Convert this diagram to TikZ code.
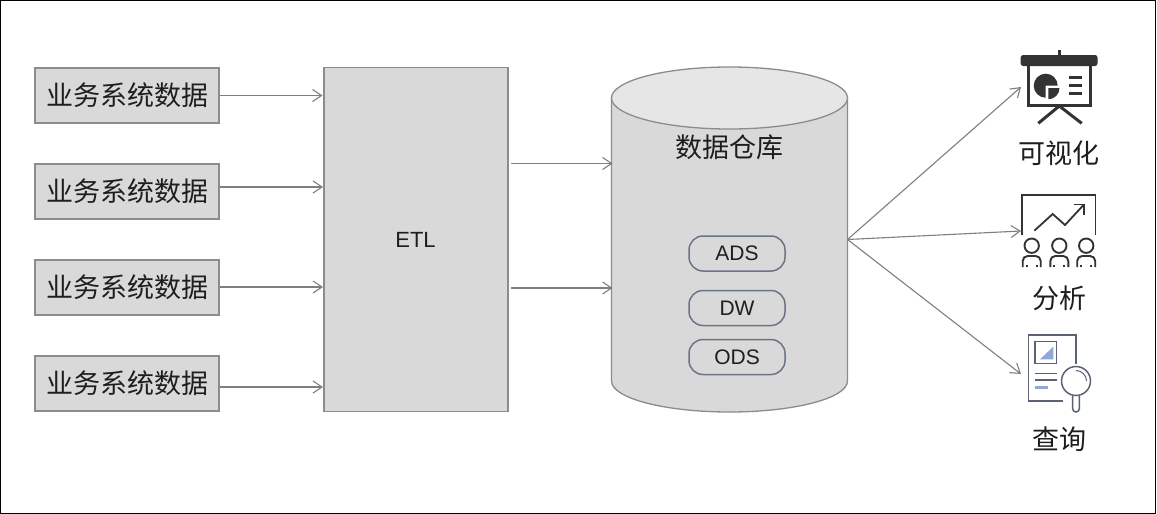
\documentclass[tikz,border=0pt]{standalone}
\usepackage{fontspec}
\setmainfont{Noto Sans CJK SC}[Scale=1]
\newfontfamily\latinf{Liberation Sans}
\usetikzlibrary{arrows.meta}
\definecolor{boxfill}{HTML}{D9D9D9}
\definecolor{boxline}{HTML}{8C8C8C}
\definecolor{lidfill}{HTML}{E6E6E6}
\definecolor{arrowc}{HTML}{7F7F7F}
\definecolor{pill}{HTML}{6B7485}
\definecolor{ink}{HTML}{1E1E1E}
\definecolor{icond}{HTML}{333333}
\definecolor{iconb}{HTML}{5B6273}
\definecolor{iconblue}{HTML}{8FA8DC}
\tikzset{
  x=1pt,y=-1pt,
  srcbox/.style={draw=boxline,fill=boxfill,line width=1.1pt,minimum width=184pt,minimum height=55pt,inner sep=0pt,text=ink,font=\fontsize{27}{27}\selectfont},
  etlbox/.style={draw=boxline,fill=boxfill,line width=1.1pt,minimum width=184pt,minimum height=344pt,inner sep=0pt},
  lbl/.style={inner sep=0pt,text=ink,font=\fontsize{27}{27}\selectfont},
  pillbox/.style={draw=pill,line width=1.5pt,rounded corners=14pt,minimum width=96pt,inner sep=0pt,text=ink,font=\latinf\fontsize{21}{22}\selectfont},
  conn/.style={draw=arrowc,line width=1.1pt,-{Straight Barb[length=9pt,width=12pt,line width=1.1pt]}},
  idark/.style={draw=icond,line width=3pt},
  iblue/.style={draw=iconb,line width=1.5pt},
  ipeople/.style={draw=icond,line width=1.9pt},
}
\begin{document}
\begin{tikzpicture}
\useasboundingbox (0,0) rectangle (1157,514);
\draw[black,line width=1.2pt,fill=white] (0.6,0.6) rectangle (1155.6,513.4);

% sources
\node[srcbox] (s1) at (127,95.5) {业务系统数据};
\node[srcbox] (s2) at (127,191.5) {业务系统数据};
\node[srcbox] (s3) at (127,287.5) {业务系统数据};
\node[srcbox] (s4) at (127,383.5) {业务系统数据};

% ETL
\node[etlbox] (etl) at (416,239.5) {};
\node[lbl,font=\latinf\fontsize{22}{23}\selectfont] (etltext) at (415.5,240) {ETL};

% warehouse
\path[draw=boxline,fill=boxfill,line width=1.3pt] (611.5,98) -- (611.5,381) arc[start angle=180,end angle=360,x radius=118,y radius=-31] -- (847.5,98) -- cycle;
\path[draw=boxline,fill=lidfill,line width=1.3pt] (729.5,98) ellipse[x radius=118,y radius=31];
\node[lbl] (dw) at (729,147) {数据仓库};
\node[pillbox,minimum height=35pt] (ads) at (737,253.5) {ADS};
\node[pillbox,minimum height=35pt] (dwl) at (737,308) {DW};
\node[pillbox,minimum height=35pt] (ods) at (737,357) {ODS};

% connector ends
\coordinate (e1) at (322.5,95.5);
\coordinate (e2) at (323,187);
\coordinate (e3) at (323,287);
\coordinate (e4) at (323,387);
\coordinate (x1) at (511,163.5);
\coordinate (x2) at (511,288);
\coordinate (c1) at (612.5,163.5);
\coordinate (c2) at (612.5,288);
\coordinate (hub) at (847.5,239.5);
\coordinate (viz) at (1021,87);
\coordinate (ana) at (1021,231);
\coordinate (qry) at (1021,374);

\draw[conn] (s1.east |- e1) -- (e1);
\draw[conn] (s2.east |- e2) -- (e2);
\draw[conn] (s3.east |- e3) -- (e3);
\draw[conn] (s4.east |- e4) -- (e4);
\draw[conn] (x1) -- (c1);
\draw[conn] (x2) -- (c2);
\draw[conn] (hub) -- (viz);
\draw[conn] (hub) -- (ana);
\draw[conn] (hub) -- (qry);

% icon: visualisation
\draw[icond,line width=2.5pt] (1059.3,49.5) -- (1059.3,56);
\fill[icond,rounded corners=2.5pt] (1020.7,55) rectangle (1097.5,66);
\draw[idark] (1028,66) -- (1028,105.5) -- (1090,105.5) -- (1090,66);
\fill[icond] (1045.7,85.7) -- (1045.7,97.7) arc[start angle=270,end angle=0,x radius=12,y radius=-12] -- cycle;
\fill[icond] (1048.3,88) -- (1059.5,88) arc[start angle=0,end angle=-90,x radius=11.2,y radius=-11.2] -- cycle;
\draw[idark] (1069,77.3) -- (1082,77.3) (1069,85) -- (1082,85) (1069,93.3) -- (1082,93.3);
\draw[idark] (1038.3,123.3) -- (1059.3,106) -- (1081.7,123.3);
\node[lbl] (vizt) at (1059,153) {可视化};

% icon: analysis
\draw[icond,line width=1.7pt] (1022,235) -- (1022,195.3) -- (1095.5,195.3) -- (1095.5,235);
\draw[icond,line width=1.8pt] (1034.3,230.7) -- (1052.7,214) -- (1065,225) -- (1084,204.5);
\draw[icond,line width=1.8pt] (1074,204.5) -- (1084,204.5) -- (1084,215);
\foreach \cx in {1031.7,1059.3,1086.2}{
  \draw[ipeople] (\cx,245.7) circle[radius=7.2];
  \draw[ipeople] (\cx-9,267) -- (\cx-9,261) arc[start angle=180,end angle=90,x radius=5,y radius=-5] -- (\cx+4,256) arc[start angle=90,end angle=0,x radius=5,y radius=-5] -- (\cx+9,267);
  \draw[ipeople] (\cx-5,264.5) -- (\cx-5,267) (\cx+5,264.5) -- (\cx+5,267);
}
\node[lbl] (anat) at (1059,298) {分析};

% icon: query
\draw[iblue] (1076,364) -- (1076,335) -- (1028.3,335) -- (1028.3,401) -- (1063.3,401);
\draw[iblue] (1035,341.7) rectangle (1056.7,363.3);
\fill[iconblue] (1040,359.3) -- (1053.3,359.3) -- (1053.3,346.7) -- cycle;
\draw[iblue] (1035,373.3) -- (1056.7,373.3) (1035,380) -- (1056.7,380);
\draw[iconblue,line width=2.5pt] (1035,387.7) -- (1048,387.7);
\draw[iblue] (1076,381) circle[radius=14.5];
\draw[iblue,line width=1pt] (1076,370.5) arc[start angle=90,end angle=0,x radius=10.5,y radius=-10.5];
\draw[iblue] (1072.7,396) -- (1072.7,408.7) arc[start angle=180,end angle=360,x radius=3.3,y radius=-3.3] -- (1079.3,396);
\node[lbl] (qryt) at (1059,439) {查询};
\end{tikzpicture}
\end{document}
